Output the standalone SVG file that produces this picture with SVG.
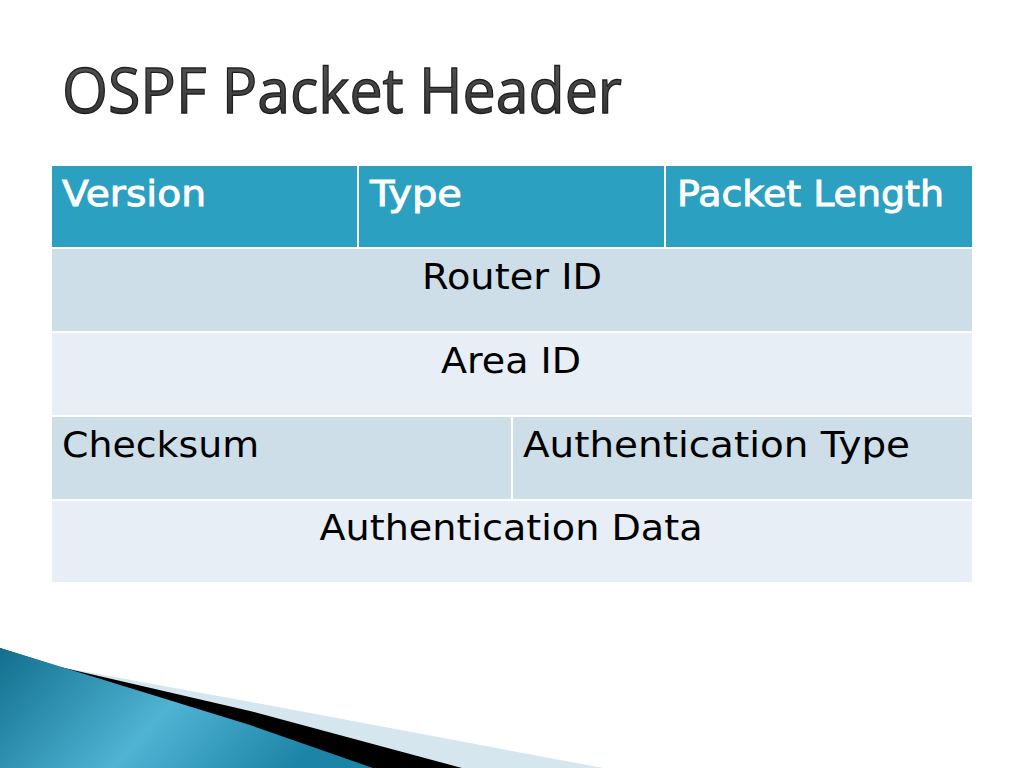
<svg xmlns="http://www.w3.org/2000/svg" width="1024" height="768" viewBox="0 0 1024 768">
<defs>
<linearGradient id="blueg" x1="0" y1="0" x2="1" y2="0.3">
<stop offset="0" stop-color="#126F8D"/>
<stop offset="0.55" stop-color="#4FB3D4"/>
<stop offset="1" stop-color="#1C84A6"/>
</linearGradient>
<linearGradient id="titleg" x1="0" y1="0" x2="0" y2="1">
<stop offset="0" stop-color="#5c5c5c"/>
<stop offset="1" stop-color="#2a2a2a"/>
</linearGradient>
<style>
.hdr{fill:#2BA0C0}
.r1{fill:#CDDEE8}
.r2{fill:#E7EEF5}
.ht{font-family:"DejaVu Sans","Open Sans",sans-serif;font-size:36px;fill:#ffffff;stroke:#ffffff;stroke-width:0.9}
.bt{font-family:"DejaVu Sans","Open Sans",sans-serif;font-size:36px;fill:#000000}
.title{font-family:"Open Sans","Noto Sans",sans-serif;font-size:62px;fill:url(#titleg);stroke:#1e1e1e;stroke-width:1.3}
</style>
</defs>
<rect width="1024" height="768" fill="#ffffff"/>
<text class="title" x="62" y="113" textLength="560" lengthAdjust="spacingAndGlyphs">OSPF Packet Header</text>
<g id="table">
<g id="cell-version"><rect class="hdr" x="52" y="166" width="305" height="81"/><text class="ht" x="62" y="206" textLength="144" lengthAdjust="spacingAndGlyphs">Version</text></g>
<g id="cell-type"><rect class="hdr" x="359" y="166" width="305" height="81"/><text class="ht" x="370" y="206" textLength="92" lengthAdjust="spacingAndGlyphs">Type</text></g>
<g id="cell-length"><rect class="hdr" x="666" y="166" width="306" height="81"/><text class="ht" x="677" y="206" textLength="267" lengthAdjust="spacingAndGlyphs">Packet Length</text></g>
<g id="cell-router"><rect class="r1" x="52" y="249" width="920" height="82"/><text class="bt" x="512" y="289" text-anchor="middle" textLength="180" lengthAdjust="spacingAndGlyphs">Router ID</text></g>
<g id="cell-area"><rect class="r2" x="52" y="333" width="920" height="82"/><text class="bt" x="511" y="373" text-anchor="middle" textLength="140" lengthAdjust="spacingAndGlyphs">Area ID</text></g>
<g id="cell-checksum"><rect class="r1" x="52" y="417" width="459" height="82"/><text class="bt" x="62" y="457" textLength="197" lengthAdjust="spacingAndGlyphs">Checksum</text></g>
<g id="cell-authtype"><rect class="r1" x="513" y="417" width="459" height="82"/><text class="bt" x="523" y="457" textLength="387" lengthAdjust="spacingAndGlyphs">Authentication Type</text></g>
<g id="cell-authdata"><rect class="r2" x="52" y="501" width="920" height="81"/><text class="bt" x="511" y="540" text-anchor="middle" textLength="383" lengthAdjust="spacingAndGlyphs">Authentication Data</text></g>
</g>
<g id="swoosh">
<path d="M0,648 L60,667 L240,700 L603,768 L0,768 Z" fill="#D6E6EF"/>
<path d="M0,648 L60,667 L250,711 L462,768 L0,768 Z" fill="#000000"/>
<path d="M0,648 L65,668 L250,725 L373,768 L0,768 Z" fill="url(#blueg)"/>
</g>
</svg>
